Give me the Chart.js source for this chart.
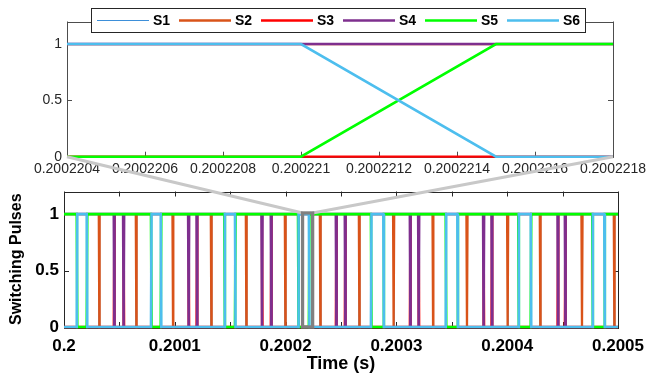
<!DOCTYPE html>
<html><head><meta charset="utf-8">
<script src="https://cdn.jsdelivr.net/npm/chart.js@4.4.1/dist/chart.umd.min.js"></script>
<style>
html,body{margin:0;padding:0;background:#fff;}
#wrap{position:relative;width:647px;height:375px;overflow:hidden;}
canvas{position:absolute;left:0;top:0;}
#topCanvas{z-index:1}
#bottomCanvas{z-index:2}
</style></head><body>
<div id="wrap">
<canvas id="topCanvas" width="647" height="375"></canvas>
<canvas id="bottomCanvas" width="647" height="375"></canvas>
</div>
<script>
// ---------- DATA (time in microseconds after t = 0.2 s) ----------
const seriesNames = ['S1', 'S2', 'S3', 'S4', 'S5', 'S6'];
const initialLevels = [0, 1, 0, 1, 1, 0];
// switching instants of each leg (each switch is a one-sample ramp)
const switchesLegA = [31.4, 31.9, 64.8, 65.3, 97.9, 98.4, 132.5, 133.0, 164.1, 164.6, 199.3, 199.8,
  230.9, 231.4, 266.1, 266.6, 297.0, 297.5, 332.6, 333.1, 363.2, 363.7, 399.9, 400.4,
  429.4, 429.9, 467.0, 467.5, 496.2, 496.7];
const switchesLegB = [44.9, 45.4, 53.3, 53.8, 112.0, 112.5, 119.6, 120.1, 178.2, 178.7, 186.6, 187.1,
  245.3, 245.8, 253.4, 253.9, 312.1, 312.6, 319.6, 320.1, 378.2, 378.7, 385.8, 386.3,
  445.4, 445.9, 452.0, 452.5];
const switchesLegC = [11.5, 20.5, 78.5, 87.3, 144.7, 154.3, 211.2, 221.0, 277.0, 288.2,
  344.5, 355.0, 410.0, 421.2, 476.8, 487.6];
const seriesSwitches = [switchesLegA, switchesLegA, switchesLegB, switchesLegB, switchesLegC, switchesLegC];
const sampleStep = 0.5;
const timeRange = [0, 500];

const bottomXTicks = [0, 50, 100, 150, 200, 250, 300, 350, 400, 450, 500];
const bottomXLabels = ['0.2', '', '0.2001', '', '0.2002', '', '0.2003', '', '0.2004', '', '0.2005'];
const topXTicks = [220.4, 220.6, 220.8, 221.0, 221.2, 221.4, 221.6, 221.8];
const topXLabels = ['0.2002204', '0.2002206', '0.2002208', '0.200221', '0.2002212', '0.2002214', '0.2002216', '0.2002218'];
const yTickValues = [0, 0.5, 1];
const yTickLabels = ['0', '0.5', '1'];
const yRange = [0, 1.2];
const zoomBoxX = [215.3, 224.4];
const zoomBoxY = [0, 1.01];

// ---------- STYLES ----------
const seriesColors = ['#3d8fd9', '#d95319', '#ff0000', '#7e2f8e', '#00ff00', '#4dbeee'];
const seriesWidths = [1, 2.3, 2.3, 2.5, 2.6, 2.6];
const FONT = "'Liberation Sans', Arial, Helvetica, sans-serif";
Chart.defaults.font.family = FONT;

function buildPoints(i) {
  let level = initialLevels[i];
  const pts = [{x: timeRange[0], y: level}];
  for (const s of seriesSwitches[i]) {
    pts.push({x: s, y: level});
    level = 1 - level;
    pts.push({x: s + sampleStep, y: level});
  }
  pts.push({x: timeRange[1], y: level});
  return pts;
}
function buildDatasets() {
  return seriesNames.map((name, i) => ({
    label: name,
    data: buildPoints(i),
    borderColor: seriesColors[i],
    backgroundColor: seriesColors[i],
    borderWidth: seriesWidths[i],
    pointRadius: 0,
    fill: false,
    tension: 0,
    order: seriesNames.length - i,
    clip: {left: 0, right: 0, top: 4, bottom: 4}
  }));
}

const boxTicksPlugin = {
  id: 'boxTicks',
  beforeDatasetsDraw(chart, args, opts) {
    const {ctx, chartArea: a} = chart;
    const xs = chart.scales.x, ys = chart.scales.y;
    ctx.save();
    ctx.strokeStyle = opts.color || '#262626';
    ctx.lineWidth = 1;
    ctx.strokeRect(Math.round(a.left) + 0.5, Math.round(a.top) + 0.5, Math.round(a.right - a.left), Math.round(a.bottom - a.top));
    const L = opts.len || 5;
    ctx.beginPath();
    xs.ticks.forEach(t => {
      const p = Math.round(xs.getPixelForValue(t.value)) + 0.5;
      ctx.moveTo(p, a.bottom); ctx.lineTo(p, a.bottom - L);
      ctx.moveTo(p, a.top); ctx.lineTo(p, a.top + L);
    });
    ys.ticks.forEach(t => {
      const p = Math.round(ys.getPixelForValue(t.value)) + 0.5;
      ctx.moveTo(a.left, p); ctx.lineTo(a.left + L, p);
      ctx.moveTo(a.right, p); ctx.lineTo(a.right - L, p);
    });
    ctx.stroke();
    ctx.restore();
  }
};

const legendPlugin = {
  id: 'boxLegend',
  afterDraw(chart) {
    const ctx = chart.ctx;
    const bx = 91.5, by = 8.5, bw = 494, bh = 24;
    ctx.save();
    ctx.fillStyle = '#fff';
    ctx.fillRect(bx, by, bw, bh);
    ctx.strokeStyle = '#262626';
    ctx.lineWidth = 1;
    ctx.strokeRect(bx, by, bw, bh);
    ctx.font = 'bold 14px ' + FONT;
    ctx.textBaseline = 'middle';
    ctx.textAlign = 'left';
    const cy = by + bh / 2;
    seriesNames.forEach((name, i) => {
      const x0 = 97 + 82 * i;
      ctx.strokeStyle = seriesColors[i];
      ctx.lineWidth = i === 0 ? 1 : 2.5;
      ctx.beginPath(); ctx.moveTo(x0, cy); ctx.lineTo(x0 + 52, cy); ctx.stroke();
      ctx.fillStyle = '#000';
      ctx.fillText(name, x0 + 56, cy + 1);
    });
    ctx.restore();
  }
};

let topChart = null;
const zoomPlugin = {
  id: 'zoomMarks',
  afterDraw(chart) {
    if (!topChart) return;
    const ctx = chart.ctx, xs = chart.scales.x, ys = chart.scales.y;
    const x0 = xs.getPixelForValue(zoomBoxX[0]), x1 = xs.getPixelForValue(zoomBoxX[1]);
    const yT = ys.getPixelForValue(zoomBoxY[1]), yB = ys.getPixelForValue(zoomBoxY[0]);
    const ta = topChart.chartArea;
    ctx.save();
    ctx.strokeStyle = '#c8c8c8';
    ctx.lineWidth = 3;
    ctx.beginPath();
    ctx.moveTo(ta.left, ta.bottom); ctx.lineTo(x0, yT);
    ctx.moveTo(ta.right, ta.bottom); ctx.lineTo(x1, yT);
    ctx.stroke();
    ctx.strokeStyle = '#808080';
    ctx.lineWidth = 3.3;
    ctx.strokeRect(x0, yT, x1 - x0, yB - yT);
    ctx.restore();
  }
};

const commonOpts = {
  responsive: false, animation: false, events: [],
  plugins: {legend: {display: false}, tooltip: {enabled: false}},
  elements: {point: {radius: 0}, line: {tension: 0}}
};

topChart = new Chart(document.getElementById('topCanvas'), {
  type: 'line',
  data: {datasets: buildDatasets()},
  plugins: [boxTicksPlugin, legendPlugin],
  options: Object.assign({}, commonOpts, {
    layout: {padding: {top: 21.5, right: 34, left: 0, bottom: 0}},
    plugins: {legend: {display: false}, tooltip: {enabled: false}, boxTicks: {color: '#4d4d4d', len: 5}},
    scales: {
      x: {
        type: 'linear', min: topXTicks[0], max: topXTicks[topXTicks.length - 1],
        afterBuildTicks: s => { s.ticks = topXTicks.map(v => ({value: v})); },
        afterFit: s => { s.height = 375 - 156.7; },
        grid: {display: false, drawTicks: true, tickLength: 4}, border: {display: false},
        ticks: {autoSkip: false, maxRotation: 0, minRotation: 0, padding: 0, color: '#262626',
          font: {size: 14}, callback: (v, i) => topXLabels[i]}
      },
      y: {
        type: 'linear', min: yRange[0], max: yRange[1],
        afterBuildTicks: s => { s.ticks = yTickValues.map(v => ({value: v})); },
        afterFit: s => { s.width = 67; },
        grid: {display: false, drawTicks: false}, border: {display: false},
        ticks: {padding: 5, color: '#262626', font: {size: 14}, callback: (v, i) => yTickLabels[i]}
      }
    }
  })
});

new Chart(document.getElementById('bottomCanvas'), {
  type: 'line',
  data: {datasets: buildDatasets()},
  plugins: [boxTicksPlugin, zoomPlugin],
  options: Object.assign({}, commonOpts, {
    layout: {padding: {top: 191.5, right: 29, left: 0, bottom: 0}},
    plugins: {legend: {display: false}, tooltip: {enabled: false}, boxTicks: {color: '#262626', len: 5}},
    scales: {
      x: {
        type: 'linear', min: timeRange[0], max: timeRange[1],
        afterBuildTicks: s => { s.ticks = bottomXTicks.map(v => ({value: v})); },
        afterFit: s => { s.height = 375 - 327; },
        grid: {display: false, drawTicks: true, tickLength: 8.8}, border: {display: false},
        ticks: {autoSkip: false, maxRotation: 0, minRotation: 0, padding: 0, color: '#000',
          font: {size: 17, weight: 'bold'}, callback: (v, i) => bottomXLabels[i]},
        title: {display: true, text: 'Time (s)', color: '#000', font: {size: 18, weight: 'bold'}, padding: {top: 0, bottom: 0}}
      },
      y: {
        type: 'linear', min: yRange[0], max: yRange[1],
        afterBuildTicks: s => { s.ticks = yTickValues.map(v => ({value: v})); },
        afterFit: s => { s.width = 64; },
        grid: {display: false, drawTicks: false}, border: {display: false},
        ticks: {padding: 5, color: '#000', font: {size: 17, weight: 'bold'}, callback: (v, i) => yTickLabels[i]},
        title: {display: true, text: 'Switching Pulses', color: '#000', font: {size: 16, weight: 'bold'}, padding: {top: 7.4, bottom: 0}}
      }
    }
  })
});
</script>
</body></html>
